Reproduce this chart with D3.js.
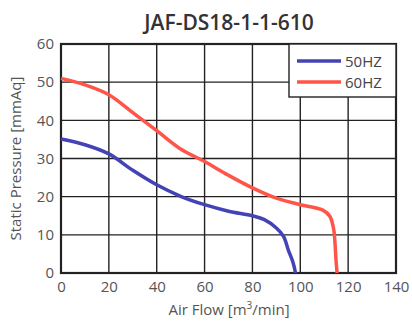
<!DOCTYPE html>
<html><head><meta charset="utf-8">
<script src="https://cdn.jsdelivr.net/npm/d3@7"></script>
<style>body{margin:0;background:#fff}svg{display:block}</style>
</head><body>
<script>
const title = "JAF-DS18-1-1-610";
const xTicks = [0, 20, 40, 60, 80, 100, 120, 140];
const yTicks = [0, 10, 20, 30, 40, 50, 60];
const seriesNames = ["50HZ", "60HZ"];
const flow50 = [0, 10, 20, 30, 40, 50, 60, 70, 80, 85, 90, 93, 95, 97, 98];
const pres50 = [35.1, 33.6, 31.2, 26.9, 23.1, 20.1, 17.9, 16.2, 15, 14, 11.8, 9.6, 6, 2.7, 0];
const flow60 = [0, 10, 20, 30, 40, 50, 60, 70, 80, 90, 100, 109.6, 112.4, 114, 114.5, 115, 115.4];
const pres60 = [51, 49.3, 46.7, 42, 37.3, 32.5, 29.2, 25.6, 22.3, 19.6, 17.9, 16.4, 14.8, 11.3, 7.9, 2.7, 0];
const colors = ["#4343b5", "#ff5548"];

const W = 412, H = 326;
const m = {l: 61, r: 16, t: 44, b: 53};
const svg = d3.select("body").append("svg").attr("width", W).attr("height", H);
const x = d3.scaleLinear().domain([0, 140]).range([m.l, W - m.r]);
const y = d3.scaleLinear().domain([0, 60]).range([H - m.b, m.t]);
const font = "'Open Sans', sans-serif";

// grid
svg.append("g").selectAll("line").data(xTicks).join("line")
  .attr("x1", d => x(d)).attr("x2", d => x(d)).attr("y1", y(0)).attr("y2", y(60))
  .attr("stroke", "#222").attr("stroke-width", 1.4);
svg.append("g").selectAll("line").data(yTicks).join("line")
  .attr("y1", d => y(d)).attr("y2", d => y(d)).attr("x1", x(0)).attr("x2", x(140))
  .attr("stroke", "#222").attr("stroke-width", 1.4);

// axes labels via d3 axes
const xAxis = svg.append("g").attr("transform", `translate(0,${y(0)})`)
  .call(d3.axisBottom(x).tickValues(xTicks).tickSize(0).tickPadding(8));
const yAxis = svg.append("g").attr("transform", `translate(${x(0)},0)`)
  .call(d3.axisLeft(y).tickValues(yTicks).tickSize(0).tickPadding(7));
[xAxis, yAxis].forEach(a => {
  a.select(".domain").remove();
  a.selectAll("text").attr("font-family", font).attr("font-size", 15).attr("fill", "#555");
});

// frame
svg.append("rect").attr("x", x(0)).attr("y", y(60)).attr("width", x(140) - x(0)).attr("height", y(0) - y(60))
  .attr("fill", "none").attr("stroke", "#222").attr("stroke-width", 2.2);

// curves
const lineX = d3.line().x(d => x(d[0])).y(d => y(d[1])).curve(d3.curveCatmullRom.alpha(0.5));
const data = [d3.zip(flow50, pres50), d3.zip(flow60, pres60)];
data.forEach((d, i) => {
  svg.append("path").attr("d", lineX(d)).attr("fill", "none")
    .attr("stroke", colors[i]).attr("stroke-width", 3.5).attr("stroke-linejoin", "round");
});

// legend
const lg = svg.append("g");
lg.append("rect").attr("x", 289).attr("y", y(60)).attr("width", x(140) - 289).attr("height", 53)
  .attr("fill", "#fff").attr("stroke", "#222").attr("stroke-width", 1.4);
seriesNames.forEach((n, i) => {
  const yy = 61 + i * 21;
  lg.append("line").attr("x1", 297).attr("x2", 341).attr("y1", yy).attr("y2", yy)
    .attr("stroke", colors[i]).attr("stroke-width", 3.5);
  lg.append("text").attr("x", 345).attr("y", yy + 5.5).text(n)
    .attr("font-family", font).attr("font-size", 15).attr("fill", "#444");
});

// titles
svg.append("text").attr("x", 229).attr("y", 30).attr("text-anchor", "middle").text(title)
  .attr("font-family", font).attr("font-size", 21).attr("font-weight", 600).attr("fill", "#333");
svg.append("text").attr("x", 229).attr("y", 315).attr("text-anchor", "middle")
  .attr("font-family", font).attr("font-size", 15).attr("fill", "#555")
  .call(t => { t.append("tspan").text("Air Flow [m"); t.append("tspan").attr("dy", -6).attr("font-size", 10).text("3");
               t.append("tspan").attr("dy", 6).text("/min]"); });
svg.append("text").attr("transform", `translate(21,${(y(0) + y(60)) / 2}) rotate(-90)`)
  .attr("text-anchor", "middle").text("Static Pressure [mmAq]")
  .attr("font-family", font).attr("font-size", 15).attr("fill", "#555");
</script>
</body></html>
